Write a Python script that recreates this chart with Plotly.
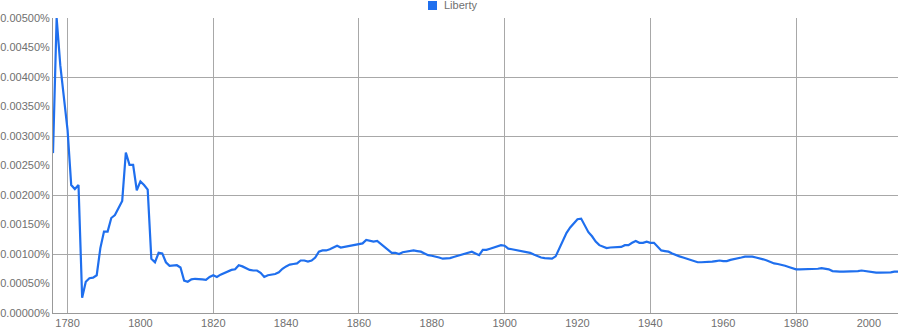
import plotly.graph_objects as go

years = list(range(1776, 2009))
# values in units of 0.001 %
liberty = [
    2.71, 5.00, 4.20, 3.69, 3.10, 2.17, 2.10, 2.17, 0.26, 0.53,  # 1776-1785
    0.59, 0.60, 0.64, 1.10, 1.38, 1.38, 1.61, 1.66, 1.78, 1.90,  # 1786-1795
    2.72, 2.51, 2.51, 2.08, 2.23, 2.17, 2.09, 0.92, 0.86, 1.02,  # 1796-1805
    1.01, 0.86, 0.80, 0.80, 0.81, 0.77, 0.55, 0.53, 0.57, 0.58,  # 1806-1815
    0.58, 0.57, 0.56, 0.61, 0.64, 0.61, 0.65, 0.68, 0.70, 0.73,  # 1816-1825
    0.74, 0.81, 0.79, 0.76, 0.73, 0.72, 0.72, 0.68, 0.61, 0.64,  # 1826-1835
    0.65, 0.66, 0.69, 0.75, 0.79, 0.82, 0.83, 0.84, 0.89, 0.89,  # 1836-1845
    0.87, 0.89, 0.94, 1.04, 1.06, 1.06, 1.08, 1.11, 1.14, 1.11,  # 1846-1855
    1.12, 1.14, 1.15, 1.15, 1.16, 1.18, 1.24, 1.23, 1.21, 1.22,  # 1856-1865
    1.17, 1.12, 1.07, 1.02, 1.02, 1.00, 1.03, 1.04, 1.06, 1.06,  # 1866-1875
    1.05, 1.04, 1.01, 0.98, 0.97, 0.96, 0.94, 0.92, 0.92, 0.93,  # 1876-1885
    0.95, 0.97, 0.99, 1.01, 1.03, 1.04, 1.01, 0.98, 1.07, 1.07,  # 1886-1895
    1.09, 1.11, 1.13, 1.15, 1.14, 1.09, 1.08, 1.07, 1.06, 1.04,  # 1896-1905
    1.03, 1.02, 0.99, 0.96, 0.94, 0.93, 0.92, 0.92, 0.96, 1.10,  # 1906-1915
    1.25, 1.36, 1.45, 1.53, 1.59, 1.60, 1.48, 1.37, 1.30, 1.21,  # 1916-1925
    1.15, 1.12, 1.10, 1.11, 1.11, 1.12, 1.12, 1.15, 1.15, 1.19,  # 1926-1935
    1.22, 1.19, 1.19, 1.21, 1.19, 1.19, 1.13, 1.06, 1.05, 1.04,  # 1936-1945
    1.01, 0.98, 0.96, 0.94, 0.92, 0.90, 0.88, 0.86, 0.86, 0.86,  # 1946-1955
    0.86, 0.87, 0.88, 0.89, 0.88, 0.88, 0.90, 0.91, 0.93, 0.94,  # 1956-1965
    0.955, 0.96, 0.955, 0.94, 0.93, 0.91, 0.89, 0.86, 0.84, 0.83,  # 1966-1975
    0.82, 0.80, 0.78, 0.76, 0.74, 0.74, 0.74, 0.74, 0.75, 0.74,  # 1976-1985
    0.75, 0.76, 0.75, 0.74, 0.71, 0.70, 0.70, 0.70, 0.70, 0.71,  # 1986-1995
    0.71, 0.71, 0.72, 0.71, 0.70, 0.69, 0.685, 0.685, 0.685, 0.69,  # 1996-2005
    0.69, 0.70, 0.70,  # 2006-2008
]
series_name = "Liberty"
values_pct = [v * 0.001 for v in liberty]

label_years = list(range(1780, 2001, 20))
grid_years = list(range(1780, 2001, 40))
y_labels = [i * 0.0005 for i in range(11)]
y_grid = [i * 0.001 for i in range(6)]

blue = "#1f6fee"
grey_text = "#707070"
grid = "#a8a8a8"

W, H = 900, 330
ML, MR, MT, MB = 53, 2, 18, 17
PW, PH = W - ML - MR, H - MT - MB


def px_x(px):
    return (px - ML) / PW


def px_y(py):
    return (H - MB - py) / PH


fig = go.Figure()
# overlay axes for gridlines (drawn first)
fig.add_trace(go.Scatter(x=[None], y=[None], xaxis="x2", yaxis="y2", showlegend=False))
fig.add_trace(go.Scatter(x=years, y=values_pct, mode="lines", name=series_name,
                         line=dict(color=blue, width=2.2), showlegend=False,
                         hoverinfo="x+y"))

# legend drawn manually (square + label) above the plot
fig.add_shape(type="rect", xref="paper", yref="paper",
              x0=px_x(428), x1=px_x(437), y0=px_y(10), y1=px_y(1),
              fillcolor=blue, line=dict(width=0))
fig.add_annotation(xref="paper", yref="paper", x=px_x(442), y=px_y(5.5),
                   xanchor="left", yanchor="middle", text=series_name, showarrow=False,
                   font=dict(size=11, color=grey_text))

fig.update_layout(
    width=W, height=H,
    margin=dict(l=ML, r=MR, t=MT, b=MB, autoexpand=False),
    paper_bgcolor="white", plot_bgcolor="white",
    showlegend=False,
    font=dict(family="Liberation Sans, Arial, sans-serif", size=11, color=grey_text),
    xaxis=dict(range=[1776, 2008], tickvals=label_years, ticktext=[str(y) for y in label_years],
               showgrid=False, showline=True, linecolor="#999999", linewidth=1,
               ticks="", zeroline=False),
    yaxis=dict(range=[0, 0.005], tickvals=y_labels,
               ticktext=["%.5f%%" % v for v in y_labels],
               showgrid=False, showline=True, linecolor="#999999", linewidth=1,
               ticks="", zeroline=False),
    xaxis2=dict(range=[1776, 2008], overlaying="x", tickvals=grid_years, showticklabels=False,
                showgrid=True, gridcolor=grid, gridwidth=1, zeroline=False),
    yaxis2=dict(range=[0, 0.005], overlaying="y", tickvals=y_grid, showticklabels=False,
                showgrid=True, gridcolor=grid, gridwidth=1, zeroline=False),
)

fig.write_html("out.html")
